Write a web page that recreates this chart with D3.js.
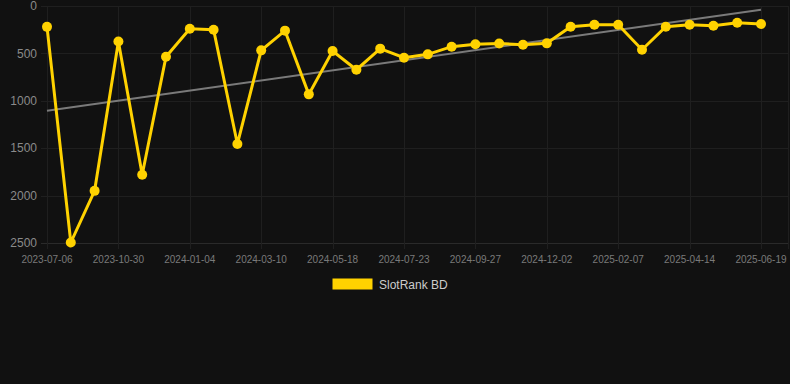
<!DOCTYPE html>
<html>
<head>
<meta charset="utf-8">
<script src="https://cdn.jsdelivr.net/npm/d3@7"></script>
<style>
  html, body { margin: 0; padding: 0; background: #111111; }
  svg { display: block; font-family: "Liberation Sans", Arial, sans-serif; }
</style>
</head>
<body>
<div id="chart"></div>
<script>
// rank values, one per observation (lower is better, axis is reversed)
var ranks = [220, 2495, 1950, 375, 1780, 535, 240, 250, 1455, 468,
             260, 932, 475, 672, 450, 545, 510, 429, 404, 396,
             408, 394, 218, 197, 197, 461, 218, 197, 208, 176, 190];
var tickLabels = ['2023-07-06', '2023-10-30', '2024-01-04', '2024-03-10', '2024-05-18',
                  '2024-07-23', '2024-09-27', '2024-12-02', '2025-02-07', '2025-04-14', '2025-06-19'];
var yTicks = [0, 500, 1000, 1500, 2000, 2500];
var trend = [1105, 40]; // trend line at first and last point
var seriesName = 'SlotRank BD';

var width = 790, height = 384;
var plotLeft = 47, plotRight = 761, plotTop = 6, plotBottom = 243, gridRight = 788;

var svg = d3.select('#chart').append('svg')
	.attr('width', width)
	.attr('height', height);

var idx = d3.range(ranks.length);
var x = d3.scalePoint().domain(idx).range([plotLeft, plotRight]);
var y = d3.scaleLinear().domain([0, 2500]).range([plotTop, plotBottom]);

// horizontal grid
svg.append('g').selectAll('line')
	.data(yTicks).enter()
	.append('line')
	.attr('x1', plotLeft - 6)
	.attr('x2', gridRight)
	.attr('y1', function(d){ return Math.round(y(d)) + 0.5; })
	.attr('y2', function(d){ return Math.round(y(d)) + 0.5; })
	.attr('stroke', function(d){ return d === 2500 ? '#2a2a2a' : '#1f1f1f'; })
	.attr('stroke-width', 1);

// vertical grid at labelled points
var tickIdx = idx.filter(function(i){ return i % 3 === 0; });
svg.append('g').selectAll('line')
	.data(tickIdx.concat(['edge'])).enter()
	.append('line')
	.attr('x1', function(d){ return d === 'edge' ? gridRight + 0.5 : Math.round(x(d)) + 0.5; })
	.attr('x2', function(d){ return d === 'edge' ? gridRight + 0.5 : Math.round(x(d)) + 0.5; })
	.attr('y1', plotTop)
	.attr('y2', plotBottom + 6)
	.attr('stroke', '#1f1f1f')
	.attr('stroke-width', 1);

// y labels
svg.append('g').selectAll('text')
	.data(yTicks).enter()
	.append('text')
	.attr('x', 37)
	.attr('y', function(d){ return y(d); })
	.attr('dy', '0.35em')
	.attr('text-anchor', 'end')
	.attr('font-size', 12)
	.attr('fill', '#8a8a8a')
	.text(function(d){ return d; });

// x labels
svg.append('g').selectAll('text')
	.data(tickIdx).enter()
	.append('text')
	.attr('x', function(d){ return x(d); })
	.attr('y', 259)
	.attr('dy', '0.35em')
	.attr('text-anchor', 'middle')
	.attr('font-size', 10)
	.attr('fill', '#7a7a7a')
	.text(function(d){ return tickLabels[d / 3]; });

// trend line
svg.append('line')
	.attr('x1', x(0))
	.attr('x2', x(ranks.length - 1))
	.attr('y1', y(trend[0]))
	.attr('y2', y(trend[1]))
	.attr('stroke', '#7a7a7a')
	.attr('stroke-width', 2);

// series
var line = d3.line()
	.x(function(d, i){ return x(i); })
	.y(function(d){ return y(d); });

svg.append('path')
	.datum(ranks)
	.attr('d', line)
	.attr('fill', 'none')
	.attr('stroke', '#FFD200')
	.attr('stroke-width', 3)
	.attr('stroke-linejoin', 'miter');

svg.append('g').selectAll('circle')
	.data(ranks).enter()
	.append('circle')
	.attr('cx', function(d, i){ return x(i); })
	.attr('cy', function(d){ return y(d); })
	.attr('r', 5)
	.attr('fill', '#FFD200');

// legend
svg.append('rect')
	.attr('x', 332.5)
	.attr('y', 278.5)
	.attr('width', 40)
	.attr('height', 11)
	.attr('fill', '#FFD200');
svg.append('text')
	.attr('x', 379)
	.attr('y', 284.5)
	.attr('dy', '0.35em')
	.attr('font-size', 12)
	.attr('fill', '#cccccc')
	.text(seriesName);
</script>
</body>
</html>
